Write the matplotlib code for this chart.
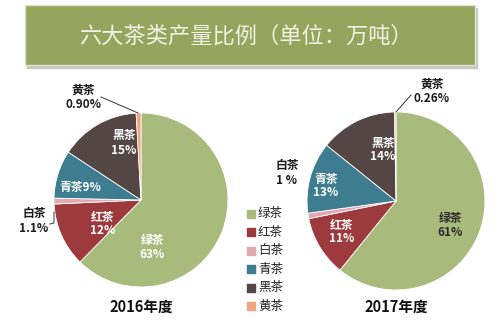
import matplotlib
matplotlib.use("Agg")
import matplotlib.pyplot as plt
from matplotlib.patches import Rectangle

plt.rcParams['font.family'] = ['Noto Sans CJK SC', 'DejaVu Sans']

# — data —
TITLE      = "六大茶类产量比例（单位：万吨）"
CATEGORIES = ["绿茶", "红茶", "白茶", "青茶", "黑茶", "黄茶"]
SHARE_2016 = [63, 12, 1.1, 9, 15, 0.90]
SHARE_2017 = [61, 11, 1, 13, 14, 0.26]
PCT_2016   = ["63%", "12%", "1.1%", "9%", "15%", "0.90%"]
PCT_2017   = ["61%", "11%", "1 %", "13%", "14%", "0.26%"]
YEARS      = ["2016年度", "2017年度"]

COLORS = ["#a8bb7c", "#9c3a3e", "#e2aab0", "#3e7d90", "#554646", "#f2a57c"]

W, H = 500, 324

fig = plt.figure(figsize=(W / 100, H / 100), dpi=100)
ax = fig.add_axes([0, 0, 1, 1])


def Y(y):
    # pixel rows counted from the top
    return H - y


# title banner with a soft drop shadow
ax.add_patch(Rectangle((27, Y(68)), 450, 60, color="#c9c9c4", zorder=1))
ax.add_patch(Rectangle((25, Y(65)), 450, 60, facecolor="#95a55e",
                       edgecolor="#dfe3cf", lw=1, zorder=2))
ax.text(246, Y(36), TITLE, ha="center", va="center", fontsize=16,
        color="#f1f2e4", zorder=3)

# pies: (center x, center y, radius)
PIES = [(141, 200, 87), (396, 201, 89)]
for (cx, cy, r), vals in zip(PIES, [SHARE_2016, SHARE_2017]):
    ax.pie(vals, colors=COLORS, startangle=90, counterclock=False,
           center=(cx, Y(cy)), radius=r,
           wedgeprops=dict(linewidth=0.6, edgecolor="white"))

# in-wedge labels: (category index, x, y, colour)
LAB_2016 = [(0, 152, 247, "white"), (1, 103, 224, "white"),
            (4, 124, 143, "white")]
LAB_2017 = [(0, 450, 225, "#2b2b2b"), (1, 342, 232, "white"),
            (3, 326, 186, "white"), (4, 383, 150, "white")]
for labs, pcts in [(LAB_2016, PCT_2016), (LAB_2017, PCT_2017)]:
    for i, x, y, c in labs:
        ax.text(x, Y(y), f"{CATEGORIES[i]}\n{pcts[i]}", ha="center",
                va="center", fontsize=8.5, fontweight="bold", color=c,
                linespacing=1.1)

# 青茶 2016 sits on one line
ax.text(80, Y(187), f"{CATEGORIES[3]}{PCT_2016[3]}", ha="center",
        va="center", fontsize=8.5, fontweight="bold", color="white")

# outside labels
OUT = [(5, PCT_2016, 83, 97), (2, PCT_2016, 34, 221),
       (5, PCT_2017, 432, 91), (2, PCT_2017, 287, 173)]
for i, pcts, x, y in OUT:
    ax.text(x, Y(y), f"{CATEGORIES[i]}\n{pcts[i]}", ha="center",
            va="center", fontsize=8.5, fontweight="bold", color="#1a1a1a",
            linespacing=1.1)

# leader lines
ax.plot([101, 138], [Y(97), Y(113)], color="#333333", lw=0.7)
ax.plot([411, 396], [Y(95), Y(112)], color="#333333", lw=0.7)
ax.plot([54, 54, 50], [Y(212), Y(223), Y(224)], color="#333333", lw=0.7)

# legend
for k, (name, c) in enumerate(zip(CATEGORIES, COLORS)):
    y = 214 + k * 18.4
    ax.scatter([251], [Y(y)], marker="s", s=30, color=c, zorder=4)
    ax.text(258, Y(y), name, ha="left", va="center", fontsize=9,
            color="#222222")

# year captions
for (cx, cy, r), yr in zip(PIES, YEARS):
    ax.text(cx, Y(307), yr, ha="center", va="center", fontsize=10.5,
            fontweight="bold", color="#111111")

ax.set_xlim(0, W)
ax.set_ylim(0, H)
ax.set_aspect("equal")
ax.axis("off")

fig.savefig("out.png", dpi=100, facecolor="white")
